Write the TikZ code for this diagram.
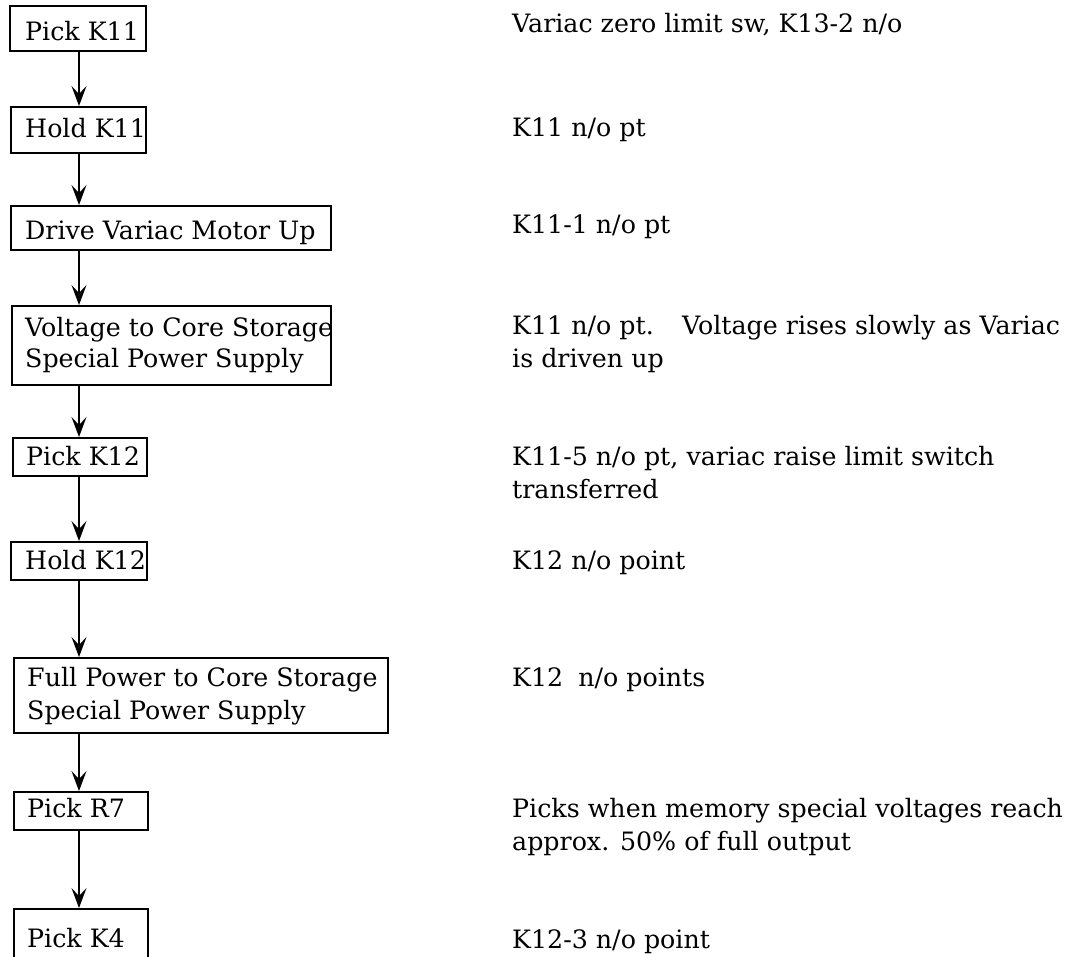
\documentclass[tikz,border=0pt]{standalone}
\usepackage{fontspec}
\setmainfont{DejaVu Serif}
\usetikzlibrary{arrows.meta}
\begin{document}
\begin{tikzpicture}[x=1pt,y=-1pt,
  boxst/.style={draw, line width=1.8pt, rectangle, anchor=north west, inner sep=0pt},
  txt/.style={anchor=base west, inner sep=0pt, font=\fontsize{25.3}{33}\selectfont},
  arr/.style={line width=1.9pt, -{Stealth[length=20pt,width=15pt,inset=8pt]}}]
\useasboundingbox (0,0) rectangle (1083,957);
% boxes
\node[boxst, minimum width=136pt, minimum height=45pt] (b1) at (9,5) {};
\node[boxst, minimum width=135pt, minimum height=46pt] (b2) at (10,106) {};
\node[boxst, minimum width=320pt, minimum height=44pt] (b3) at (10,205) {};
\node[boxst, minimum width=319pt, minimum height=79pt] (b4) at (11,305) {};
\node[boxst, minimum width=134pt, minimum height=38pt] (b5) at (12,437) {};
\node[boxst, minimum width=136pt, minimum height=38pt] (b6) at (10,541) {};
\node[boxst, minimum width=374pt, minimum height=75pt] (b7) at (13,657) {};
\node[boxst, minimum width=134pt, minimum height=38pt] (b8) at (13,791) {};
\node[boxst, minimum width=134pt, minimum height=54pt] (b9) at (13,908) {};
% box texts
\node[txt] (t1) at (25,41) {Pick K11};
\node[txt] (t2) at (25,138) {Hold K11};
\node[txt] (t3) at (25,240) {Drive Variac Motor Up};
\node[txt] (t4a) at (25,336) {Voltage to Core Storage};
\node[txt] (t4b) at (25,367) {Special Power Supply};
\node[txt] (t5) at (26,465) {Pick K12};
\node[txt] (t6) at (25,569) {Hold K12};
\node[txt] (t7a) at (27,686) {Full Power to Core Storage};
\node[txt] (t7b) at (27,719) {Special Power Supply};
\node[txt] (t8) at (27,817) {Pick R7};
\node[txt] (t9) at (27,947) {Pick K4};
% labels
\node[txt] (l1) at (512,33) {Variac zero limit sw, K13-2 n/o};
\node[txt] (l2) at (512,137) {K11 n/o pt};
\node[txt] (l3) at (512,234) {K11-1 n/o pt};
\node[txt] (l4a) at (512,334) {\makebox[170pt][l]{K11 n/o pt.}Voltage rises slowly as Variac};
\node[txt] (l4b) at (512,367) {is driven up};
\node[txt] (l5a) at (512,465) {K11-5 n/o pt, variac raise limit switch};
\node[txt] (l5b) at (512,498) {transferred};
\node[txt] (l6) at (512,569) {K12 n/o point};
\node[txt] (l7) at (512,686) {K12\hspace{15pt}n/o points};
\node[txt] (l8a) at (512,817) {Picks when memory special voltages reach};
\node[txt] (l8b) at (512,850) {approx. 50\% of full output};
\node[txt] (l9) at (512,948) {K12-3 n/o point};
% connectors
\coordinate (ax) at (79,0);
\draw[arr] (b1.south -| ax) -- (b2.north -| ax);
\draw[arr] (b2.south -| ax) -- (b3.north -| ax);
\draw[arr] (b3.south -| ax) -- (b4.north -| ax);
\draw[arr] (b4.south -| ax) -- (b5.north -| ax);
\draw[arr] (b5.south -| ax) -- (b6.north -| ax);
\draw[arr] (b6.south -| ax) -- (b7.north -| ax);
\draw[arr] (b7.south -| ax) -- (b8.north -| ax);
\draw[arr] (b8.south -| ax) -- (b9.north -| ax);
\end{tikzpicture}
\end{document}
